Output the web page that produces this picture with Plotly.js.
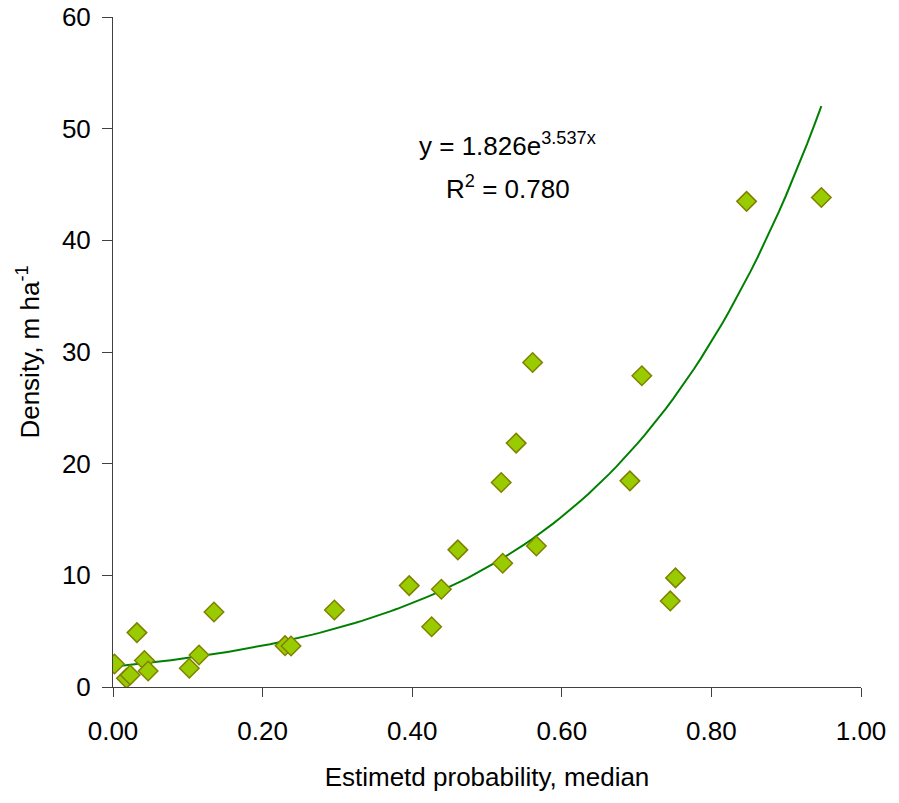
<!DOCTYPE html>
<html>
<head>
<meta charset="utf-8">
<script src="https://cdn.plot.ly/plotly-3.0.1.min.js"></script>
<style>html,body{margin:0;padding:0;background:#fff;}#chart{width:899px;height:803px;}</style>
</head>
<body>
<div id="chart"></div>
<script>
const probability = [0.002, 0.018, 0.023, 0.032, 0.042, 0.047, 0.102, 0.115, 0.135, 0.230, 0.238, 0.296,
  0.396, 0.439, 0.426, 0.461, 0.519, 0.521, 0.539, 0.561, 0.566, 0.691, 0.707, 0.745, 0.752, 0.847, 0.947];
const density = [2.06, 0.78, 1.08, 4.87, 2.37, 1.43, 1.68, 2.87, 6.72, 3.70, 3.67, 6.90,
  9.08, 8.75, 5.40, 12.28, 18.31, 11.08, 21.84, 29.06, 12.63, 18.46, 27.87, 7.71, 9.77, 43.49, 43.84];

// Trendline coefficients as printed on the chart: y = 1.826 e^(3.537x)
const trendA = 1.826;
const trendB = 3.537;
const trendR2 = 0.780;

const xTickVals = [0, 0.2, 0.4, 0.6, 0.8, 1.0];
const xTickText = ["0.00", "0.20", "0.40", "0.60", "0.80", "1.00"];
const yTickVals = [0, 10, 20, 30, 40, 50, 60];

// Build trendline over the data range from the printed equation
const xMin = Math.min(...probability), xMax = Math.max(...probability);
const trendX = [], trendY = [];
for (let i = 0; i <= 100; i++) {
  const x = xMin + (xMax - xMin) * i / 100;
  trendX.push(x);
  trendY.push(trendA * Math.exp(trendB * x));
}

const font = {family: "Liberation Sans, Arial, sans-serif", size: 26, color: "#000"};

const data = [
  {x: trendX, y: trendY, type: "scatter", mode: "lines",
   line: {color: "#008000", width: 2}, hoverinfo: "skip"},
  {x: probability, y: density, type: "scatter", mode: "markers",
   marker: {symbol: "diamond", size: 15, color: "#99CC00", line: {color: "#808000", width: 1.5}}}
];

const layout = {
  width: 899, height: 803,
  margin: {l: 113, r: 38, t: 17, b: 116},
  paper_bgcolor: "#fff", plot_bgcolor: "#fff",
  showlegend: false,
  font: font,
  xaxis: {
    range: [0, 1], tickvals: xTickVals, ticktext: xTickText,
    showgrid: false, zeroline: false, showline: true, linecolor: "#404040", linewidth: 1,
    ticks: "outside", ticklen: 9, tickcolor: "#404040", tickwidth: 1,
    tickfont: font, ticklabelstandoff: 12,
    title: {text: "Estimetd probability, median", font: font, standoff: 22}
  },
  yaxis: {
    range: [0, 60], tickvals: yTickVals,
    showgrid: false, zeroline: false, showline: true, linecolor: "#404040", linewidth: 1,
    ticks: "outside", ticklen: 10, tickcolor: "#404040", tickwidth: 1,
    tickfont: font, ticklabelstandoff: 6,
    title: {text: "Density, m ha<sup>-1</sup>", font: font, standoff: 14}
  },
  annotations: [
    {x: 0.528, y: 48.6, xref: "x", yref: "y", showarrow: false,
     text: "y = " + trendA.toFixed(3) + "e<sup>" + trendB.toFixed(3) + "x</sup>", font: font},
    {x: 0.528, y: 44.7, xref: "x", yref: "y", showarrow: false,
     text: "R<sup>2</sup> = " + trendR2.toFixed(3), font: font}
  ]
};

Plotly.newPlot("chart", data, layout, {displayModeBar: false, staticPlot: true});
</script>
</body>
</html>
